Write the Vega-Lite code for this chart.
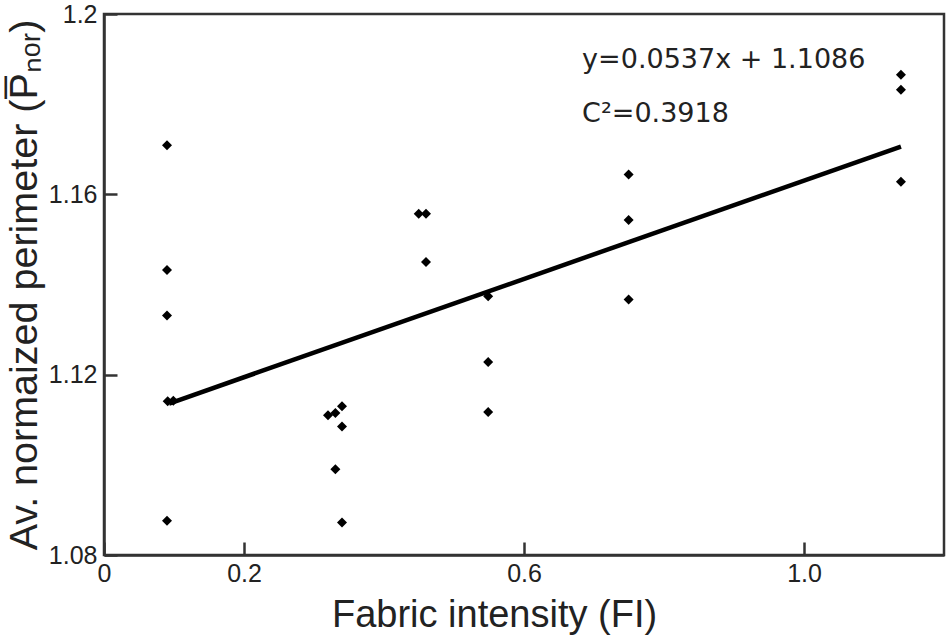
{
  "$schema": "https://vega.github.io/schema/vega-lite/v6.json",
  "width": 840,
  "height": 541,
  "autosize": {"type": "none"},
  "padding": {"left": 104, "top": 14, "right": 3, "bottom": 83},
  "background": "white",
  "config": {
    "view": {"stroke": "#333", "strokeWidth": 2.5},
    "font": "Liberation Sans",
    "axis": {
      "domainColor": "#333", "domainWidth": 2.5,
      "tickColor": "#333", "tickWidth": 2.5,
      "grid": false,
      "labelFont": "Liberation Sans", "labelColor": "#222",
      "titleFont": "Liberation Sans", "titleFontWeight": "normal", "titleColor": "#222"
    }
  },
  "datasets": {
    "points": [
      {"fi": 0.09, "p": 1.1709},
      {"fi": 0.09, "p": 1.1432},
      {"fi": 0.09, "p": 1.1331},
      {"fi": 0.091, "p": 1.1141},
      {"fi": 0.099, "p": 1.1142},
      {"fi": 0.09, "p": 1.0876},
      {"fi": 0.320, "p": 1.1110},
      {"fi": 0.3305, "p": 1.1115},
      {"fi": 0.340, "p": 1.1130},
      {"fi": 0.340, "p": 1.1085},
      {"fi": 0.3305, "p": 1.0990},
      {"fi": 0.340, "p": 1.0872},
      {"fi": 0.4496, "p": 1.1557},
      {"fi": 0.460, "p": 1.1557},
      {"fi": 0.460, "p": 1.1450},
      {"fi": 0.5488, "p": 1.1374},
      {"fi": 0.5488, "p": 1.1228},
      {"fi": 0.5488, "p": 1.1117},
      {"fi": 0.7495, "p": 1.1644},
      {"fi": 0.7495, "p": 1.1543},
      {"fi": 0.7495, "p": 1.1367},
      {"fi": 1.1385, "p": 1.1865},
      {"fi": 1.1385, "p": 1.1832},
      {"fi": 1.1385, "p": 1.1628}
    ],
    "fit": [
      {"fi": 0.093, "p": 1.1136},
      {"fi": 1.1385, "p": 1.1706}
    ],
    "notes": [
      {"label": "y=0.0537x + 1.1086", "fi": 0.683, "p": 1.188},
      {"label": "C²=0.3918", "fi": 0.683, "p": 1.176}
    ]
  },
  "layer": [
    {
      "data": {"name": "fit"},
      "mark": {"type": "line", "color": "black", "strokeWidth": 4.5, "strokeCap": "butt"},
      "encoding": {
        "x": {
          "field": "fi", "type": "quantitative",
          "scale": {"domain": [0, 1.2], "nice": false, "zero": false},
          "axis": {
            "values": [0, 0.2, 0.6, 1.0],
            "labelExpr": "datum.value == 0 ? '0' : format(datum.value, '.1f')",
            "labelFontSize": 25,
            "labelFlush": false,
            "tickSize": -13,
            "labelPadding": 19,
            "title": "Fabric intensity (FI)",
            "titleFontSize": 38,
            "titlePadding": 10,
            "titleX": 390
          }
        },
        "y": {
          "field": "p", "type": "quantitative",
          "scale": {"domain": [1.08, 1.2], "nice": false, "zero": false},
          "axis": {
            "values": [1.08, 1.12, 1.16, 1.2],
            "format": ".2~f",
            "labelFontSize": 25,
            "labelFlush": false,
            "tickSize": -13,
            "labelPadding": 20,
            "title": "Av. normaized perimeter (P̅ₙₒᵣ)",
            "titleFontSize": 39.5,
            "titlePadding": 4
          }
        }
      }
    },
    {
      "data": {"name": "points"},
      "mark": {"type": "point", "shape": "diamond", "filled": true, "color": "black", "size": 100, "opacity": 1},
      "encoding": {
        "x": {"field": "fi", "type": "quantitative"},
        "y": {"field": "p", "type": "quantitative"}
      }
    },
    {
      "data": {"name": "notes"},
      "mark": {"type": "text", "align": "left", "baseline": "alphabetic", "font": "DejaVu Sans", "fontSize": 27, "color": "#222"},
      "encoding": {
        "x": {"field": "fi", "type": "quantitative"},
        "y": {"field": "p", "type": "quantitative"},
        "text": {"field": "label"}
      }
    }
  ]
}
